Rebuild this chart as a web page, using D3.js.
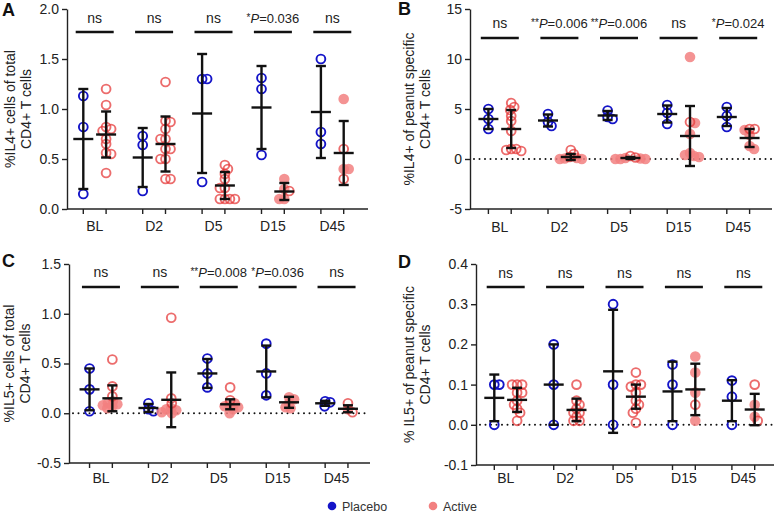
<!DOCTYPE html>
<html><head><meta charset="utf-8">
<script src="https://cdn.jsdelivr.net/npm/d3@7"></script>
<style>
body{margin:0;background:#fff;}
svg{font-family:"Liberation Sans",Arial,Helvetica,sans-serif;}
</style></head><body>
<svg id="chart" width="778" height="512"></svg>
<script>
const categories = ["BL","D2","D5","D15","D45"];
const groups = ["Placebo","Active"];

// ---------- Panel A: %IL4+ cells of total CD4+ T cells ----------
const aPlacebo = [[1.13,0.82,0.15],[0.73,0.64,0.18],[1.30,1.30,0.27],[1.31,1.20,0.54],[1.50,0.77,0.65]];
const aPlaceboMean = [0.70,0.515,0.955,1.015,0.97];
const aPlaceboSD = [0.50,0.295,0.595,0.415,0.46];
const aActiveOpen = [[1.20,1.04,0.82,0.80,0.78,0.70,0.65,0.56,0.55,0.36],
  [1.27,0.88,0.87,0.80,0.70,0.70,0.60,0.60,0.50,0.50,0.30,0.30],
  [0.44,0.40,0.35,0.30,0.21,0.21,0.10,0.10,0.10,0.10],[0.18],[0.60,0.30]];
const aActiveFilled = [[],[],[],[0.30,0.20,0.10,0.10],[1.10,0.40,0.40]];
const aActiveMean = [0.745,0.65,0.235,0.175,0.56];
const aActiveSD = [0.23,0.275,0.135,0.085,0.32];
const aSig = ["ns","ns","ns","*P=0.036","ns"];
const aTicks = [0,0.5,1.0,1.5,2.0];
const aTickLabels = ["0.0","0.5","1.0","1.5","2.0"];

// ---------- Panel B: %IL4+ of peanut specific CD4+ T cells ----------
const bPlacebo = [[5.0,4.0,3.0],[4.5,3.7,3.3],[4.85,4.2,4.0],[5.4,4.6,3.5],[5.2,4.3,3.2]];
const bPlaceboMean = [4.0,3.85,4.35,4.5,4.2];
const bPlaceboSD = [1.0,0.6,0.45,0.85,0.9];
const bActiveOpen = [[5.6,5.2,4.9,4.3,3.8,2.8,1.0,1.0,0.9,0.8],[0.9,0.5,0.2],[0.3,0.15],[3.7],[3.0,3.0]];
const bActiveFilled = [[],[0.1,0.05,0.0,0.0],[0.1,0.05,0.0,0.0,0.0],[10.2,3.6,2.5,0.6,0.4,0.3,0.2],[2.9,2.4,1.3,1.0]];
const bActiveMean = [3.0,0.2,0.1,2.3,2.1];
const bActiveSD = [1.9,0.3,0.1,3.0,0.9];
const bSig = ["ns","**P=0.006","**P=0.006","ns","*P=0.024"];
const bTicks = [-5,0,5,10,15];
const bTickLabels = ["-5","0","5","10","15"];

// ---------- Panel C: %IL5+ cells of total CD4+ T cells ----------
const cPlacebo = [[0.45,0.24,0.02],[0.10,0.04,0.02],[0.55,0.40,0.26],[0.70,0.40,0.18],[0.12,0.11,0.07]];
const cPlaceboMean = [0.24,0.053,0.40,0.42,0.10];
const cPlaceboSD = [0.21,0.04,0.145,0.26,0.025];
const cActiveOpen = [[0.54,0.27,0.17],[0.96,0.15,0.10],[0.26,0.13],[],[0.10,0.01]];
const cActiveFilled = [[0.12,0.10,0.09,0.08,0.07,0.05],[0.05,0.04,0.03,0.01,0.0],[0.10,0.08,0.07,0.06,0.04,0.0],[0.16,0.14,0.10,0.06,0.05],[0.04]];
const cActiveMean = [0.15,0.135,0.09,0.11,0.045];
const cActiveSD = [0.13,0.275,0.05,0.055,0.035];
const cSig = ["ns","ns","**P=0.008","*P=0.036","ns"];
const cTicks = [-0.5,0,0.5,1.0,1.5];
const cTickLabels = ["-0.5","0.0","0.5","1.0","1.5"];

// ---------- Panel D: % IL5+ of peanut specific CD4+ T cells ----------
const dPlacebo = [[0.10,0.10,0.0],[0.20,0.10,0.0],[0.30,0.10,0.0],[0.15,0.10,0.0],[0.11,0.07,0.0]];
const dPlaceboMean = [0.067,0.10,0.133,0.083,0.06];
const dPlaceboSD = [0.058,0.10,0.153,0.074,0.051];
const dActiveOpen = [[0.10,0.10,0.10,0.08,0.08,0.06,0.05,0.04,0.03,0.01],
  [0.10,0.06,0.05,0.04,0.03,0.03,0.02,0.01,0.01],
  [0.13,0.10,0.10,0.095,0.08,0.06,0.05,0.04,0.03,0.005],[0.05],[0.10,0.01]];
const dActiveFilled = [[],[],[],[0.17,0.13,0.08,0.01],[0.05,0.02]];
const dActiveMean = [0.062,0.037,0.07,0.088,0.038];
const dActiveSD = [0.03,0.028,0.03,0.064,0.039];
const dSig = ["ns","ns","ns","ns","ns"];
const dTicks = [-0.1,0,0.1,0.2,0.3,0.4];
const dTickLabels = ["-0.1","0.0","0.1","0.2","0.3","0.4"];

const legendItems = ["Placebo","Active"];

// ---------- layout / style ----------
const BLUE = "#1414c8", RED = "#e63b3b", PINK = "#f28080";
const svg = d3.select("#chart");

const panels = [
  {letter:"A", placebo:aPlacebo, pm:aPlaceboMean, ps:aPlaceboSD, ao:aActiveOpen, af:aActiveFilled, am:aActiveMean, as:aActiveSD,
   sig:aSig, ticks:aTicks, tickLabels:aTickLabels, domain:[0,2], title:["%IL4+ cells of total","CD4+ T cells"],
   x0:67, x1:368, band:[65,362], yTop:9, yBot:209, sigBar:32, sigText:23, xLab:235, t1:15, t2:31, lx:2, ly:16, zero:false},
  {letter:"B", placebo:bPlacebo, pm:bPlaceboMean, ps:bPlaceboSD, ao:bActiveOpen, af:bActiveFilled, am:bActiveMean, as:bActiveSD,
   sig:bSig, ticks:bTicks, tickLabels:bTickLabels, domain:[-5,15], title:["%IL4+ of peanut specific","CD4+ T cells"],
   x0:470, x1:772, band:[470,768], yTop:9, yBot:209, sigBar:38, sigText:28, xLab:236, t1:414, t2:430, lx:398, ly:15, zero:true},
  {letter:"C", placebo:cPlacebo, pm:cPlaceboMean, ps:cPlaceboSD, ao:cActiveOpen, af:cActiveFilled, am:cActiveMean, as:cActiveSD,
   sig:cSig, ticks:cTicks, tickLabels:cTickLabels, domain:[-0.5,1.5], title:["%IL5+ cells of total","CD4+ T cells"],
   x0:69, x1:370, band:[71.5,366], yTop:264, yBot:463, sigBar:287, sigText:277, xLab:487, t1:14, t2:30, lx:2, ly:267, zero:true},
  {letter:"D", placebo:dPlacebo, pm:dPlaceboMean, ps:dPlaceboSD, ao:dActiveOpen, af:dActiveFilled, am:dActiveMean, as:dActiveSD,
   sig:dSig, ticks:dTicks, tickLabels:dTickLabels, domain:[-0.1,0.4], title:["% IL5+ of peanut specific","CD4+ T cells"],
   x0:476, x1:774, band:[476,773], yTop:264, yBot:465, sigBar:287, sigText:278, xLab:487, t1:414, t2:430, lx:398, ly:268, zero:true}
];

const R = 4.4, MIN = 5;
function swarm(pts){
  const placed = [];
  const sorted = pts.slice().sort((a,b)=>a.py-b.py);
  let flip = 1;
  for (const d of sorted){
    let best = 0, found = false;
    for (let k=0; k<40 && !found; k+=0.5){
      const cands = k===0 ? [0] : [flip*k, -flip*k];
      for (const s of cands){
        if (placed.every(q=>Math.hypot(q.dx-s, q.py-d.py) >= MIN)){ best=s; found=true; break; }
      }
    }
    if (best!==0) flip = -Math.sign(best);
    d.dx = best; placed.push(d);
  }
  return placed;
}

function sigText(sel, label){
  const m = label.match(/^(\*+)P(=.*)$/);
  if (!m){ sel.attr("font-size",14).text(label); return; }
  sel.attr("font-size",13);
  sel.append("tspan").text(m[1]).attr("font-size",10).attr("dy",-2);
  sel.append("tspan").text("P").attr("font-style","italic").attr("dy",2);
  sel.append("tspan").text(m[2]);
}

panels.forEach(p=>{
  const g = svg.append("g");
  const y = d3.scaleLinear().domain(p.domain).range([p.yBot, p.yTop]);
  const x = d3.scaleBand().domain(categories).range(p.band);
  const gx = d3.scalePoint().domain(groups).range([-11.4, 11.4]);
  const cx = c => x(c) + x.bandwidth()/2;
  const pos = (c, grp) => cx(c) + gx(grp);

  // significance bars + labels
  categories.forEach((c,i)=>{
    g.append("line").attr("x1",cx(c)-19).attr("x2",cx(c)+19).attr("y1",p.sigBar).attr("y2",p.sigBar)
      .attr("stroke","#111").attr("stroke-width",2.4);
    const t = g.append("text").attr("x",cx(c)).attr("y",p.sigText).attr("text-anchor","middle")
      .attr("fill","#222");
    sigText(t, p.sig[i]);
  });

  // zero dotted line
  if (p.zero){
    g.append("line").attr("x1",p.x0+4).attr("x2",p.x1).attr("y1",y(0)).attr("y2",y(0))
      .attr("stroke","#111").attr("stroke-width",2).attr("stroke-linecap","round")
      .attr("stroke-dasharray","0,5.5");
  }

  // points
  categories.forEach((c,i)=>{
    const plac = swarm(p.placebo[i].map(v=>({v, py:y(v), filled:false})));
    const act = swarm(p.ao[i].map(v=>({v, py:y(v), filled:false})).concat(p.af[i].map(v=>({v, py:y(v), filled:true}))));
    g.selectAll(null).data(plac).join("circle")
      .attr("cx",d=>pos(c,"Placebo")+d.dx).attr("cy",d=>d.py).attr("r",R)
      .attr("fill","none").attr("stroke",BLUE).attr("stroke-width",1.9);
    g.selectAll(null).data(act.filter(d=>d.filled)).join("circle")
      .attr("cx",d=>pos(c,"Active")+d.dx).attr("cy",d=>d.py).attr("r",R+0.9)
      .attr("fill",PINK).attr("fill-opacity",0.85);
    g.selectAll(null).data(act.filter(d=>!d.filled)).join("circle")
      .attr("cx",d=>pos(c,"Active")+d.dx).attr("cy",d=>d.py).attr("r",R)
      .attr("fill","none").attr("stroke",RED).attr("stroke-opacity",0.75).attr("stroke-width",1.9);
  });

  // mean ± SD
  const bars = [];
  categories.forEach((c,i)=>{
    bars.push({x:pos(c,"Placebo"), m:p.pm[i], s:p.ps[i]});
    bars.push({x:pos(c,"Active"), m:p.am[i], s:p.as[i]});
  });
  bars.forEach(b=>{
    const eb = g.append("g").attr("stroke","#111").attr("stroke-width",2.4);
    eb.append("line").attr("x1",b.x).attr("x2",b.x).attr("y1",y(b.m-b.s)).attr("y2",y(b.m+b.s));
    eb.append("line").attr("x1",b.x-5).attr("x2",b.x+5).attr("y1",y(b.m+b.s)).attr("y2",y(b.m+b.s));
    eb.append("line").attr("x1",b.x-5).attr("x2",b.x+5).attr("y1",y(b.m-b.s)).attr("y2",y(b.m-b.s));
    eb.append("line").attr("x1",b.x-10).attr("x2",b.x+10).attr("y1",y(b.m)).attr("y2",y(b.m));
  });

  // y axis
  const ya = g.append("g").attr("transform",`translate(${p.x0},0)`)
    .call(d3.axisLeft(y).tickValues(p.ticks).tickFormat((d,i)=>p.tickLabels[i]).tickSize(5).tickSizeOuter(0).tickPadding(3));
  ya.selectAll("path,line").attr("stroke","#222").attr("stroke-width",1.4);
  ya.selectAll("text").attr("font-size",14).attr("fill","#222").attr("font-family",null);

  // x axis
  g.append("line").attr("x1",p.x0).attr("x2",p.x1).attr("y1",p.yBot).attr("y2",p.yBot)
    .attr("stroke","#222").attr("stroke-width",1.4);
  categories.forEach(c=>groups.forEach(grp=>{
    g.append("line").attr("x1",pos(c,grp)).attr("x2",pos(c,grp)).attr("y1",p.yBot).attr("y2",p.yBot+5)
      .attr("stroke","#222").attr("stroke-width",1.4);
  }));
  const xa = g.append("g").attr("transform",`translate(0,${p.xLab-14})`)
    .call(d3.axisBottom(x).tickSize(0).tickPadding(0));
  xa.select(".domain").remove();
  xa.selectAll("text").attr("font-size",14).attr("fill","#222").attr("font-family",null).attr("dy","0.71em");

  // y title
  const midY = (p.yTop+p.yBot)/2;
  [p.t1,p.t2].forEach((tx,k)=>{
    g.append("text").attr("transform",`translate(${tx},${midY}) rotate(-90)`)
      .attr("text-anchor","middle").attr("font-size",14).attr("fill","#222").text(p.title[k]);
  });

  // panel letter
  g.append("text").attr("x",p.lx).attr("y",p.ly).attr("font-size",18).attr("font-weight","bold").attr("fill","#111").text(p.letter);
});

// legend
const legColor = d3.scaleOrdinal().domain(legendItems).range([BLUE, PINK]);
const legX = d3.scaleOrdinal().domain(legendItems).range([332, 433]);
const lg = svg.append("g");
legendItems.forEach(k=>{
  lg.append("circle").attr("cx",legX(k)).attr("cy",506).attr("r",4.3).attr("fill",legColor(k));
  lg.append("text").attr("x",legX(k)+10).attr("y",510.5).attr("font-size",12.5).attr("fill","#333").text(k);
});
</script>
</body></html>
